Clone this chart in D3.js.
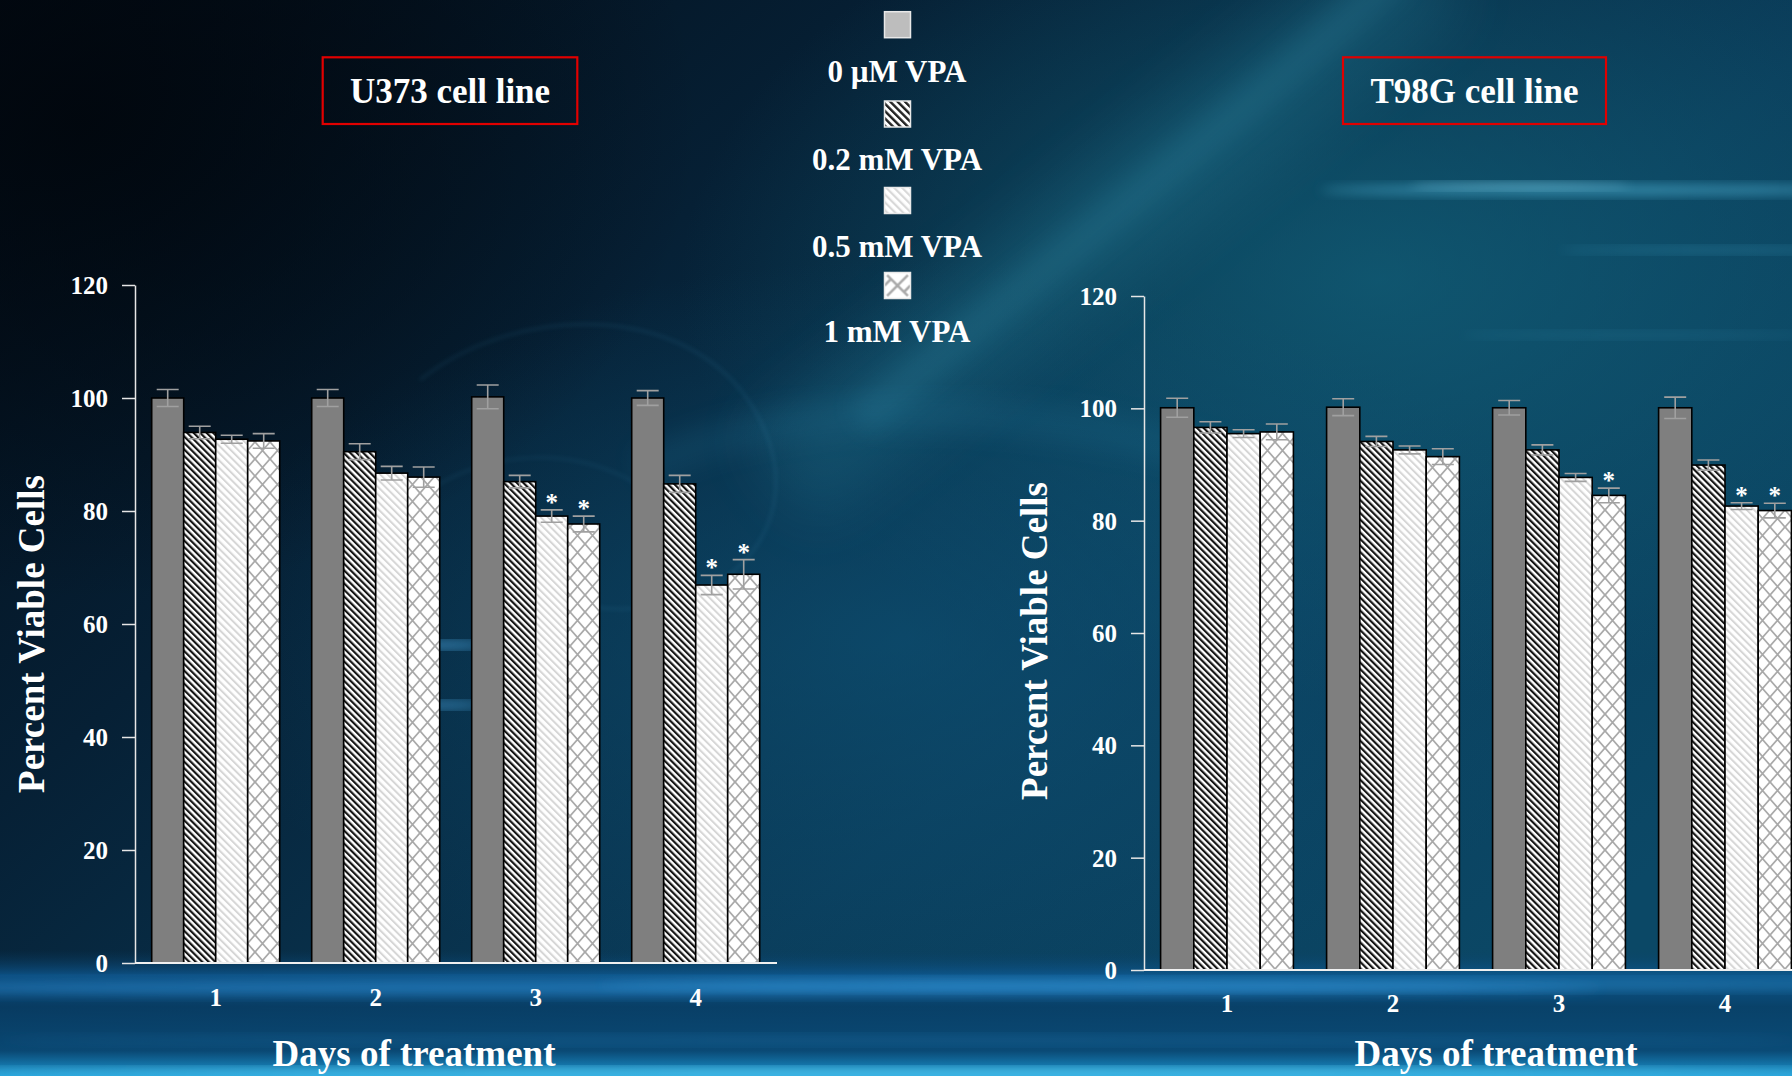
<!DOCTYPE html>
<html>
<head>
<meta charset="utf-8">
<script src="https://cdn.jsdelivr.net/npm/d3@7"></script>
<style>
  html, body { margin: 0; padding: 0; background: #04121f; }
  svg { display: block; }
  text { font-family: "Liberation Serif", "Times New Roman", serif; font-weight: bold; fill: #ffffff; }
</style>
</head>
<body>
<svg id="chart" width="1792" height="1076"></svg>
<script>
// ---- data ----
const days = ["1", "2", "3", "4"];
const doses = ["0 µM VPA", "0.2 mM VPA", "0.5 mM VPA", "1 mM VPA"];
const yTicks = [0, 20, 40, 60, 80, 100, 120];

// U373: mean percent viable cells per dose, one value per day
const u373Dose0   = [100.0, 100.0, 100.2, 100.0];
const u373Dose02  = [93.9, 90.5, 85.2, 84.8];
const u373Dose05  = [92.7, 86.7, 79.1, 66.9];
const u373Dose1   = [92.4, 86.0, 77.7, 68.8];
const u373Err0    = [1.5, 1.5, 2.1, 1.3];
const u373Err02   = [1.1, 1.4, 1.1, 1.5];
const u373Err05   = [0.7, 1.2, 1.1, 1.7];
const u373Err1    = [1.3, 1.8, 1.4, 2.6];
const u373Sig05   = [false, false, true, true];
const u373Sig1    = [false, false, true, true];

// T98G
const t98gDose0   = [100.1, 100.2, 100.1, 100.1];
const t98gDose02  = [96.6, 94.1, 92.6, 89.9];
const t98gDose05  = [95.5, 92.6, 87.7, 82.6];
const t98gDose1   = [95.8, 91.4, 84.5, 81.8];
const t98gErr0    = [1.7, 1.5, 1.3, 1.9];
const t98gErr02   = [1.0, 0.9, 0.9, 0.9];
const t98gErr05   = [0.7, 0.7, 0.7, 0.6];
const t98gErr1    = [1.4, 1.4, 1.3, 1.3];
const t98gSig05   = [false, false, false, true];
const t98gSig1    = [false, false, true, true];

const panelTitles = ["U373 cell line", "T98G cell line"];
const yTitle = "Percent Viable Cells";
const xTitle = "Days of treatment";

function rows(means, errs, sigs) {
  const out = [];
  days.forEach((d, i) => {
    doses.forEach((s, j) => {
      out.push({ day: d, dose: s, value: means[j][i], err: errs[j][i], sig: sigs[j] ? sigs[j][i] : false });
    });
  });
  return out;
}
const u373Rows = rows([u373Dose0, u373Dose02, u373Dose05, u373Dose1],
                      [u373Err0, u373Err02, u373Err05, u373Err1],
                      [null, null, u373Sig05, u373Sig1]);
const t98gRows = rows([t98gDose0, t98gDose02, t98gDose05, t98gDose1],
                      [t98gErr0, t98gErr02, t98gErr05, t98gErr1],
                      [null, null, t98gSig05, t98gSig1]);

// ---- drawing ----
const svg = d3.select("#chart");
const W = 1792, H = 1076;
const defs = svg.append("defs");

// blur filters for the backdrop glow
[["blur2", 2], ["blur6", 6], ["blur12", 12], ["blur30", 30]].forEach(([id, s]) => {
  defs.append("filter").attr("id", id).attr("x", "-50%").attr("y", "-50%").attr("width", "200%").attr("height", "200%")
    .append("feGaussianBlur").attr("stdDeviation", s);
});

function linGrad(id, x1, y1, x2, y2, stops) {
  const g = defs.append("linearGradient").attr("id", id)
    .attr("x1", x1).attr("y1", y1).attr("x2", x2).attr("y2", y2);
  stops.forEach(([o, c, op]) => g.append("stop").attr("offset", o).attr("stop-color", c).attr("stop-opacity", op == null ? 1 : op));
}
function radGrad(id, stops) {
  const g = defs.append("radialGradient").attr("id", id);
  stops.forEach(([o, c, op]) => g.append("stop").attr("offset", o).attr("stop-color", c).attr("stop-opacity", op == null ? 1 : op));
}
linGrad("bgBase", 0, 0, 1, 0.7, [[0, "#020a14"], [0.35, "#062035"], [0.7, "#0a3c5a"], [1, "#0b4866"]]);
radGrad("tealGlow", [[0, "#12627a", 0.7], [1, "#12627a", 0]]);
radGrad("darkCorner", [[0, "#01060c", 0.85], [1, "#01060c", 0]]);
radGrad("midGlow", [[0, "#0e5478", 0.6], [1, "#0e5478", 0]]);
linGrad("bottomBand", 0, 0, 0, 1, [[0, "#0a3f66", 0], [0.2, "#0e5c98", 0.75], [0.45, "#08406a", 0.8], [0.8, "#0a4b78", 0.9], [1, "#1d9ad6", 1]]);

// bar fill patterns
function stripePattern(id, period, width, color, angle) {
  const p = defs.append("pattern").attr("id", id).attr("patternUnits", "userSpaceOnUse")
    .attr("width", period).attr("height", period).attr("patternTransform", `rotate(${angle})`);
  p.append("rect").attr("width", period).attr("height", period).attr("fill", "#ffffff");
  p.append("rect").attr("x", 0).attr("width", width).attr("height", period).attr("fill", color);
}
stripePattern("hatchDark", 4.6, 2.2, "#151515", -45);
stripePattern("hatchLight", 5.2, 2.0, "#d6d6d6", -45);
stripePattern("hatchDarkLg", 5.2, 2.4, "#222222", -45);
stripePattern("hatchLightLg", 5.6, 2.2, "#d8d8d8", -45);

function crossPattern(id, w, h, color, sw) {
  const p = defs.append("pattern").attr("id", id).attr("patternUnits", "userSpaceOnUse")
    .attr("width", w).attr("height", h);
  p.append("rect").attr("width", w).attr("height", h).attr("fill", "#ffffff");
  p.append("path").attr("d", `M0,0L${w},${h}M${w},0L0,${h}`)
    .attr("stroke", color).attr("stroke-width", sw).attr("fill", "none");
}
crossPattern("crossHatch", 15, 17, "#a9a9a9", 1.8);

// legend swatch for 1 mM: a single X across the box
const crossLg = defs.append("pattern").attr("id", "crossHatchLg")
  .attr("patternUnits", "objectBoundingBox").attr("patternContentUnits", "objectBoundingBox")
  .attr("width", 1).attr("height", 1);
crossLg.append("rect").attr("width", 1).attr("height", 1).attr("fill", "#ffffff");
crossLg.append("path").attr("d", "M0.1,0.1L0.9,0.9M0.9,0.1L0.1,0.9M0,0.5L0.25,0.25M0.75,0.75L1,0.5")
  .attr("stroke", "#aaaaaa").attr("stroke-width", 0.1).attr("fill", "none");

const doseFill = {
  "0 µM VPA": "#7f7f7f",
  "0.2 mM VPA": "url(#hatchDark)",
  "0.5 mM VPA": "url(#hatchLight)",
  "1 mM VPA": "url(#crossHatch)"
};
const legendFill = {
  "0 µM VPA": "#bdbdbd",
  "0.2 mM VPA": "url(#hatchDarkLg)",
  "0.5 mM VPA": "url(#hatchLightLg)",
  "1 mM VPA": "url(#crossHatchLg)"
};

// ---- backdrop ----
const bg = svg.append("g");
bg.append("rect").attr("width", W).attr("height", H).attr("fill", "url(#bgBase)");
bg.append("ellipse").attr("cx", 1380).attr("cy", 280).attr("rx", 700).attr("ry", 420).attr("fill", "url(#tealGlow)");
bg.append("ellipse").attr("cx", 900).attr("cy", 640).attr("rx", 700).attr("ry", 380).attr("fill", "url(#midGlow)");
bg.append("ellipse").attr("cx", 80).attr("cy", 120).attr("rx", 620).attr("ry", 480).attr("fill", "url(#darkCorner)");

// soft swooshes
const swoosh = bg.append("g").attr("fill", "none");
swoosh.append("path").attr("d", "M1430,-40 C1280,90 1060,260 780,480")
  .attr("stroke", "#2d8ea8").attr("stroke-width", 110).attr("opacity", 0.22).attr("filter", "url(#blur30)");
swoosh.append("path").attr("d", "M1400,-30 C1260,100 1080,240 860,420")
  .attr("stroke", "#3e9fba").attr("stroke-width", 36).attr("opacity", 0.16).attr("filter", "url(#blur12)");
swoosh.append("path").attr("d", "M640,470 C780,400 1000,390 1260,470")
  .attr("stroke", "#2a84a8").attr("stroke-width", 36).attr("opacity", 0.14).attr("filter", "url(#blur12)");
swoosh.append("path").attr("d", "M420,380 C520,300 700,300 760,420 C820,540 700,640 560,600")
  .attr("stroke", "#3f8fb6").attr("stroke-width", 2).attr("opacity", 0.2).attr("filter", "url(#blur2)");
swoosh.append("path").attr("d", "M360,560 C420,460 560,420 660,500")
  .attr("stroke", "#3f8fb6").attr("stroke-width", 2).attr("opacity", 0.16).attr("filter", "url(#blur2)");

// light streaks
const streaks = bg.append("g");
[[440, 645, 55, 3, "#4fb0ec", 0.9], [440, 705, 50, 3, "#4fb0ec", 0.8],
 [1600, 190, 280, 5, "#5cc6ea", 0.55], [1520, 186, 110, 3, "#9be0f6", 0.45],
 [1720, 250, 160, 3, "#52c0e6", 0.3], [1640, 335, 180, 3, "#52c0e6", 0.18]]
  .forEach(([cx, cy, rx, ry, c, op]) => {
    streaks.append("ellipse").attr("cx", cx).attr("cy", cy).attr("rx", rx).attr("ry", ry)
      .attr("fill", c).attr("opacity", op).attr("filter", "url(#blur6)");
  });

// bottom band with horizontal glow lines
bg.append("rect").attr("x", 0).attr("y", 950).attr("width", W).attr("height", H - 950).attr("fill", "url(#bottomBand)");
[[700, 988, 900, 7, "#3196e0", 0.55], [1300, 985, 700, 5, "#3aa4e6", 0.45],
 [900, 1040, 900, 4, "#2e8fcf", 0.25], [900, 1073, 1000, 4, "#5fd4f5", 0.9]]
  .forEach(([cx, cy, rx, ry, c, op]) => {
    bg.append("ellipse").attr("cx", cx).attr("cy", cy).attr("rx", rx).attr("ry", ry)
      .attr("fill", c).attr("opacity", op).attr("filter", "url(#blur6)");
  });

// ---- panels ----
const panels = [
  { rows: u373Rows, title: panelTitles[0], y0: 963, y120: 285, axisX: 135, xRange: [135.7, 775.7], xEnd: 777,
    box: [322.7, 57.3, 254.6, 66.7], yTitleX: 44, yTitleY: 634, xTitleX: 414, xTickBase: 1006 },
  { rows: t98gRows, title: panelTitles[1], y0: 970, y120: 296, axisX: 1144, xRange: [1144, 1808], xEnd: 1792,
    box: [1343, 57.3, 263, 66.7], yTitleX: 1047, yTitleY: 641, xTitleX: 1496, xTickBase: 1012 }
];

panels.forEach(p => {
  const g = svg.append("g");
  const y = d3.scaleLinear().domain([0, 120]).range([p.y0, p.y120]);
  const x = d3.scaleBand().domain(days).range(p.xRange).paddingInner(0.2).paddingOuter(0.1);
  const xs = d3.scaleBand().domain(doses).range([0, x.bandwidth()]);

  // bars
  g.append("g").selectAll("rect").data(p.rows).join("rect")
    .attr("x", d => x(d.day) + xs(d.dose))
    .attr("y", d => y(d.value))
    .attr("width", xs.bandwidth())
    .attr("height", d => y(0) - y(d.value))
    .attr("fill", d => doseFill[d.dose])
    .attr("stroke", "#000").attr("stroke-width", 1.6);

  // error bars
  const capHalf = 11;
  const eb = g.append("g").attr("stroke", "#a0a0a0").attr("stroke-width", 1.6).attr("fill", "none");
  eb.selectAll("path").data(p.rows).join("path")
    .attr("d", d => {
      const cx = x(d.day) + xs(d.dose) + xs.bandwidth() / 2;
      const hi = y(d.value + d.err), lo = y(d.value - d.err);
      return `M${cx},${lo}V${hi}M${cx - capHalf},${hi}H${cx + capHalf}M${cx - capHalf},${lo}H${cx + capHalf}`;
    });

  // significance marks
  g.append("g").selectAll("text").data(p.rows.filter(d => d.sig)).join("text")
    .attr("x", d => x(d.day) + xs(d.dose) + xs.bandwidth() / 2)
    .attr("y", d => y(d.value + d.err) + 1)
    .attr("text-anchor", "middle").style("font-size", "25px")
    .text("*");

  // y axis
  const ya = g.append("g").attr("transform", `translate(${p.axisX},0)`)
    .call(d3.axisLeft(y).tickValues(yTicks).tickFormat(d3.format("d")).tickSize(13).tickSizeOuter(0).tickPadding(14));
  ya.select(".domain").attr("stroke", "#e6e6e6").attr("stroke-width", 1.5);
  ya.selectAll(".tick line").attr("stroke", "#e6e6e6").attr("stroke-width", 1.5);
  ya.selectAll(".tick text").attr("fill", "#fff").attr("dy", "0.34em")
    .style("font-family", "'Liberation Serif', serif").style("font-weight", "bold").style("font-size", "25px");

  // x axis
  const xa = g.append("g").attr("transform", `translate(0,${p.y0})`)
    .call(d3.axisBottom(x).tickSize(0).tickSizeOuter(0));
  xa.select(".domain").attr("d", `M${p.axisX},0H${p.xEnd}`).attr("stroke", "#f0f0f0").attr("stroke-width", 1.8);
  xa.selectAll(".tick text").attr("fill", "#fff").attr("y", p.xTickBase - p.y0).attr("dy", 0)
    .style("font-family", "'Liberation Serif', serif").style("font-weight", "bold").style("font-size", "25px");

  // axis titles
  g.append("text").attr("transform", `translate(${p.yTitleX},${p.yTitleY}) rotate(-90)`)
    .attr("text-anchor", "middle").style("font-size", "37px").text(yTitle);
  g.append("text").attr("x", p.xTitleX).attr("y", 1066)
    .attr("text-anchor", "middle").style("font-size", "37px").text(xTitle);

  // panel title box
  g.append("rect").attr("x", p.box[0]).attr("y", p.box[1]).attr("width", p.box[2]).attr("height", p.box[3])
    .attr("fill", "none").attr("stroke", "#e10000").attr("stroke-width", 2.2);
  g.append("text").attr("x", p.box[0] + p.box[2] / 2).attr("y", 103)
    .attr("text-anchor", "middle").style("font-size", "35px").text(p.title);
});

// ---- legend ----
const legendRows = [
  { swatchY: 11.7, textY: 82 },
  { swatchY: 101, textY: 170 },
  { swatchY: 187.5, textY: 256.5 },
  { swatchY: 272.5, textY: 341.5 }
];
const lg = svg.append("g");
doses.forEach((s, i) => {
  const r = legendRows[i];
  lg.append("rect").attr("x", 884.5).attr("y", r.swatchY).attr("width", 26).attr("height", 26)
    .attr("fill", legendFill[s]).attr("stroke", "#e8e8e8").attr("stroke-width", 1.5);
  lg.append("text").attr("x", 897).attr("y", r.textY).attr("text-anchor", "middle")
    .style("font-size", "31px").text(s);
});
</script>
</body>
</html>
